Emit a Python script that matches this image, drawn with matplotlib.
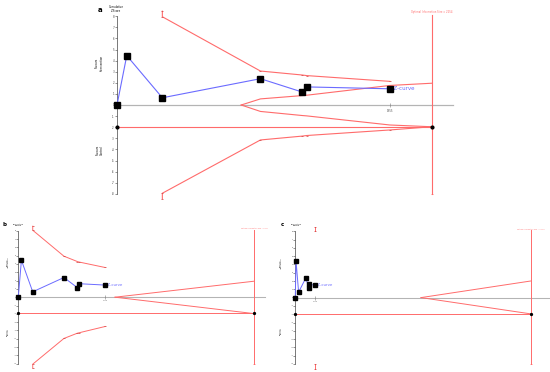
import matplotlib
matplotlib.use("Agg")
import matplotlib.pyplot as plt

W, H = 550, 372
fig = plt.figure(figsize=(W / 100, H / 100), dpi=100)

# ---------------- data ----------------
cum_n = [0, 70, 325, 1028, 1329, 1359, 1955]
z_curve = [0, 4.45, 0.65, 2.37, 1.16, 1.63, 1.46]

# panel a
a_ris = 2254
a_up_n = [325, 325, 1028, 1329, 1359, 1955]
a_up_z = [8.45, 7.95, 3.06, 2.70, 2.65, 2.13]
a_lo_n = [325, 325, 1028, 1329, 1359, 1955, 2254]
a_lo_z = [-8.45, -7.95, -3.15, -2.80, -2.75, -2.25, -1.96]
a_fut_n = [890, 1028, 1329, 1359, 1955, 2254]
a_fut_up = [0, 0.55, 0.85, 0.88, 1.76, 1.96]
a_fut_lo = [0, -0.58, -0.95, -0.98, -1.80, -1.96]

# panel b
b_ris = 5318
b_up_n = [325, 325, 1028, 1329, 1359, 1955]
b_up_z = [8.55, 8.07, 4.94, 4.30, 4.25, 3.58]
b_lo_n = [325, 325, 1028, 1329, 1359, 1955]
b_lo_z = [-8.55, -8.07, -4.97, -4.34, -4.30, -3.53]
b_fut_n = [2180, 5318]
b_fut_up = [0, 1.93]
b_fut_lo = [0, -1.98]

# panel c
c_ris = 23070
c_up_n = [1955, 1955]
c_up_z = [8.55, 8.0]
c_lo_n = [1955, 1955]
c_lo_z = [-8.55, -8.0]
c_fut_n = [12320, 23070]
c_fut_up = [0, 2.0]
c_fut_lo = [0, -1.96]

conv_z = -1.96
yticks = list(range(-8, 9))

RED = "#ff6b6b"
BLUE = "#6b6bff"
GRAY = "#b4b4b4"


def fig_text(x, y, s, **kw):
    fig.text(x / W, 1 - y / H, s, **kw)


def make_ax(left_px, right_px, zero_x_px, ris, ris_px, top_px, bot_px, zero_y_px, px_per_z):
    ppn = (ris_px - zero_x_px) / ris
    ax = fig.add_axes([left_px / W, 1 - bot_px / H, (right_px - left_px) / W, (bot_px - top_px) / H])
    ax.set_xlim((left_px - zero_x_px) / ppn, (right_px - zero_x_px) / ppn)
    ax.set_ylim((zero_y_px - bot_px) / px_per_z, (zero_y_px - top_px) / px_per_z)
    ax.patch.set_alpha(0)
    for s in ["top", "right", "bottom"]:
        ax.spines[s].set_visible(False)
    ax.spines["left"].set_position(("data", 0))
    ax.spines["left"].set_bounds(-8, 8)
    ax.spines["left"].set_linewidth(0.5)
    ax.spines["left"].set_color("#444444")
    ax.set_xticks([])
    ax.set_yticks(yticks)
    ax.set_yticklabels([str(t) for t in yticks])
    return ax, ppn


def draw_panel(ax, ris, gray_end, up_n, up_z, lo_n, lo_z, fut_n, fut_up, fut_lo,
               msq, lw, fs_tick, fs_z, fs_ris, fs_x):
    ax.tick_params(axis="y", length=1.3, width=0.4, labelsize=fs_tick, pad=0.6,
                   colors="#444444")
    # zero axis
    ax.plot([0, gray_end], [0, 0], color=GRAY, lw=lw * 1.1, zorder=1)
    ax.plot([cum_n[-1]], [0], marker="|", color="#777777", ms=2.5, mew=0.4, zorder=2)
    ax.text(cum_n[-1], -0.35, str(cum_n[-1]), fontsize=fs_x, color="#555555",
            ha="center", va="top")
    # conventional boundary
    ax.plot([0, ris], [conv_z, conv_z], color=RED, lw=lw, zorder=2)
    ax.plot([0, ris], [conv_z, conv_z], "o", color="black", ms=msq * 0.45, zorder=5)
    # RIS line
    ax.plot([ris, ris], [8.15, -8.0], color=RED, lw=lw, zorder=2)
    ax.plot([ris], [-8.0], marker="_", color=RED, ms=2, mew=0.5)
    ax.text(ris, 8.2, f"Optimal Information Size = {ris}", color=RED,
            fontsize=fs_ris, ha="center", va="bottom")
    # monitoring boundaries
    ax.plot(up_n, up_z, color=RED, lw=lw, marker="_", ms=2, mew=0.5,
            mec="#d04040", zorder=2, clip_on=False)
    ax.plot(lo_n, lo_z, color=RED, lw=lw, marker="_", ms=2, mew=0.5,
            mec="#d04040", zorder=2, clip_on=False)
    ax.plot(fut_n, fut_up, color=RED, lw=lw, zorder=2)
    ax.plot(fut_n, fut_lo, color=RED, lw=lw, zorder=2)
    # Z-curve
    ax.plot(cum_n, z_curve, color=BLUE, lw=lw, zorder=3)
    ax.plot(cum_n, z_curve, "s", color="black", ms=msq, zorder=4)
    ax.text(cum_n[-1], z_curve[-1], "  Z-curve", color=BLUE, fontsize=fs_z,
            ha="left", va="center")


# ---------- panel a ----------
ax_a, _ = make_ax(105, 470, 117, a_ris, 431.5, 2, 202, 105, 11.1)
draw_panel(ax_a, a_ris, 2405, a_up_n, a_up_z, a_lo_n, a_lo_z, a_fut_n, a_fut_up, a_fut_lo,
           msq=4.4, lw=0.8, fs_tick=1.9, fs_z=4.0, fs_ris=1.8, fs_x=1.9)
fig_text(100, 10, "a", fontsize=5, fontweight="bold", ha="center", va="center")
fig_text(116, 9, "Cumulative\nZ-Score", fontsize=1.9, ha="center", va="center", linespacing=1.0)
fig_text(99, 63, "Favours\nIntervention", fontsize=1.9, ha="center", va="center", rotation=90)
fig_text(100, 150, "Favours\nControl", fontsize=1.9, ha="center", va="center", rotation=90)

# ---------- panel b ----------
ax_b, _ = make_ax(10, 270, 18.3, b_ris, 254.3, 218, 370, 297.2, 8.3)
draw_panel(ax_b, b_ris, 5559, b_up_n, b_up_z, b_lo_n, b_lo_z, b_fut_n, b_fut_up, b_fut_lo,
           msq=3.0, lw=0.7, fs_tick=1.4, fs_z=2.8, fs_ris=1.2, fs_x=1.4)
fig_text(4.5, 224, "b", fontsize=4, fontweight="bold", ha="center", va="center")
fig_text(18, 224.5, "Cumulative\nZ-Score", fontsize=1.4, ha="center", va="center", linespacing=1.0)
fig_text(8, 262, "Favours\nIntervention", fontsize=1.4, ha="center", va="center", rotation=90)
fig_text(8, 332, "Favours\nControl", fontsize=1.4, ha="center", va="center", rotation=90)

# ---------- panel c ----------
ax_c, _ = make_ax(288, 550, 295.3, c_ris, 530.7, 218, 370, 297.6, 8.3)
draw_panel(ax_c, c_ris, 24960, c_up_n, c_up_z, c_lo_n, c_lo_z, c_fut_n, c_fut_up, c_fut_lo,
           msq=3.0, lw=0.7, fs_tick=1.4, fs_z=2.8, fs_ris=1.2, fs_x=1.4)
fig_text(282, 224, "c", fontsize=4, fontweight="bold", ha="center", va="center")
fig_text(296, 224.5, "Cumulative\nZ-Score", fontsize=1.4, ha="center", va="center", linespacing=1.0)
fig_text(281, 263, "Favours\nIntervention", fontsize=1.4, ha="center", va="center", rotation=90)
fig_text(281, 331, "Favours\nControl", fontsize=1.4, ha="center", va="center", rotation=90)

fig.savefig("out.png", dpi=100, facecolor="white")
